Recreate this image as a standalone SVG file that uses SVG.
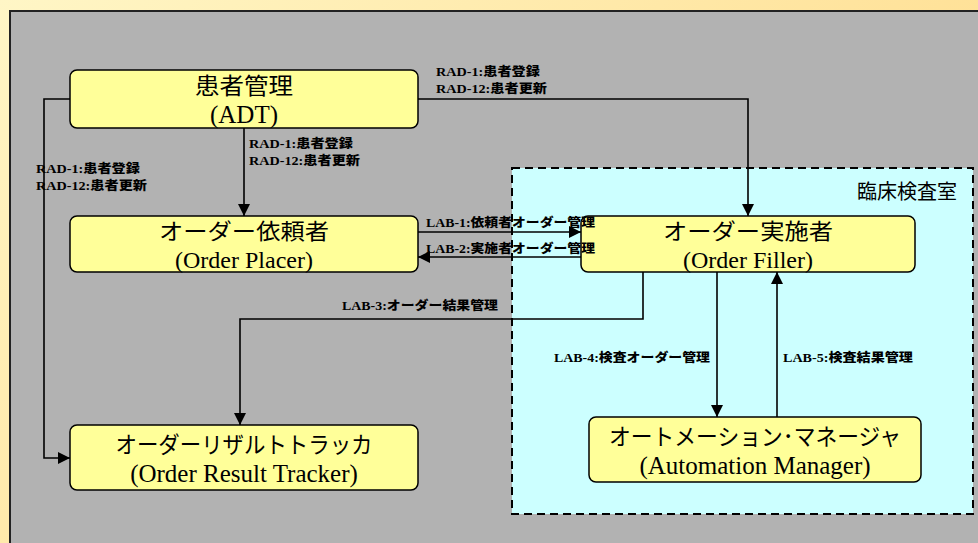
<svg xmlns="http://www.w3.org/2000/svg" width="978" height="543" viewBox="0 0 978 543">
<defs>
<linearGradient id="bg" x1="0" y1="0" x2="1" y2="0.6">
<stop offset="0" stop-color="#FFF6C6"/>
<stop offset="1" stop-color="#FFDA88"/>
</linearGradient>
<marker id="ah" markerUnits="userSpaceOnUse" markerWidth="12" markerHeight="12" viewBox="0 0 12 12" refX="12" refY="6" orient="auto">
<path d="M0,0 L12,6 L0,12 Z" fill="#000"/>
</marker>
<style>
.node rect{fill:#FFFF99;stroke:#000;stroke-width:1.5}
.t{font-family:"Liberation Serif",serif;font-size:25px;fill:#000;text-anchor:middle}
.s{font-size:24px}
.j{font-family:"Noto Sans CJK JP","Liberation Sans",sans-serif;font-size:23px;fill:#000;text-anchor:middle}
.js{font-size:22px}
.lbl{font-family:"Liberation Serif","Noto Sans CJK JP",serif;font-size:12px;font-weight:bold;fill:#000}
.lbl tspan{font-family:"Noto Sans CJK JP",sans-serif;font-weight:900}
.c{fill:none;stroke:#000;stroke-width:1.6}
</style>
</defs>
<rect x="0" y="0" width="978" height="543" fill="url(#bg)"/>
<rect x="10" y="11" width="975" height="540" fill="#B2B2B2" stroke="#222" stroke-width="2"/>
<g id="lab-area">
<rect x="512" y="168" width="461" height="346" fill="#CCFFFF" stroke="#000" stroke-width="2" stroke-dasharray="8,5"/>
<text x="957" y="199" style="font-family:'Noto Sans CJK JP',sans-serif;font-size:20px;text-anchor:end;fill:#000">臨床検査室</text>
</g>
<g id="adt" class="node">
<rect x="70" y="70" width="348" height="58" rx="7"/>
<text class="j" x="244" y="94" textLength="98" lengthAdjust="spacingAndGlyphs">患者管理</text>
<text class="t" x="244" y="123">(ADT)</text>
</g>
<g id="order-placer" class="node">
<rect x="70" y="216" width="348" height="56" rx="7"/>
<text class="j js" x="244" y="239" textLength="170" lengthAdjust="spacingAndGlyphs">オーダー依頼者</text>
<text class="t s" x="244" y="268">(Order Placer)</text>
</g>
<g id="order-filler" class="node">
<rect x="581" y="216" width="334" height="56" rx="7"/>
<text class="j js" x="748" y="239" textLength="170" lengthAdjust="spacingAndGlyphs">オーダー実施者</text>
<text class="t s" x="748" y="268">(Order Filler)</text>
</g>
<g id="order-result-tracker" class="node">
<rect x="70" y="425" width="348" height="65" rx="7"/>
<text class="j" x="244" y="453" textLength="257" lengthAdjust="spacingAndGlyphs">オーダーリザルトトラッカ</text>
<text class="t" x="244" y="482">(Order Result Tracker)</text>
</g>
<g id="automation-manager" class="node">
<rect x="589" y="417" width="332" height="65" rx="7"/>
<text class="j" x="755" y="445" textLength="292" lengthAdjust="spacingAndGlyphs">オートメーション･マネージャ</text>
<text class="t" x="755" y="474">(Automation Manager)</text>
</g>
<g id="connectors">
<polyline class="c" points="70,99 44,99 44,458 70,458" marker-end="url(#ah)"/>
<line class="c" x1="244" y1="128" x2="244" y2="216" marker-end="url(#ah)"/>
<polyline class="c" points="418,99 748,99 748,216" marker-end="url(#ah)"/>
<line class="c" x1="418" y1="232" x2="581" y2="232" marker-end="url(#ah)"/>
<line class="c" x1="581" y1="257" x2="418" y2="257" marker-end="url(#ah)"/>
<polyline class="c" points="643,272 643,319 240,319 240,425" marker-end="url(#ah)"/>
<line class="c" x1="717" y1="272" x2="717" y2="417" marker-end="url(#ah)"/>
<line class="c" x1="777" y1="417" x2="777" y2="272" marker-end="url(#ah)"/>
<text class="lbl" x="436" y="76" textLength="104" lengthAdjust="spacingAndGlyphs">RAD-1:<tspan>患者登録</tspan></text>
<text class="lbl" x="436" y="93" textLength="111" lengthAdjust="spacingAndGlyphs">RAD-12:<tspan>患者更新</tspan></text>
<text class="lbl" x="249" y="148" textLength="104" lengthAdjust="spacingAndGlyphs">RAD-1:<tspan>患者登録</tspan></text>
<text class="lbl" x="249" y="165" textLength="111" lengthAdjust="spacingAndGlyphs">RAD-12:<tspan>患者更新</tspan></text>
<text class="lbl" x="36" y="173" textLength="104" lengthAdjust="spacingAndGlyphs">RAD-1:<tspan>患者登録</tspan></text>
<text class="lbl" x="36" y="190" textLength="111" lengthAdjust="spacingAndGlyphs">RAD-12:<tspan>患者更新</tspan></text>
<text class="lbl" x="426" y="227" textLength="169" lengthAdjust="spacingAndGlyphs">LAB-1:<tspan>依頼者オーダー管理</tspan></text>
<text class="lbl" x="426" y="253" textLength="169" lengthAdjust="spacingAndGlyphs">LAB-2:<tspan>実施者オーダー管理</tspan></text>
<text class="lbl" x="342" y="310" textLength="156" lengthAdjust="spacingAndGlyphs">LAB-3:<tspan>オーダー結果管理</tspan></text>
<text class="lbl" x="554" y="362" textLength="156" lengthAdjust="spacingAndGlyphs">LAB-4:<tspan>検査オーダー管理</tspan></text>
<text class="lbl" x="783" y="362" textLength="130" lengthAdjust="spacingAndGlyphs">LAB-5:<tspan>検査結果管理</tspan></text>
</g>
</svg>
